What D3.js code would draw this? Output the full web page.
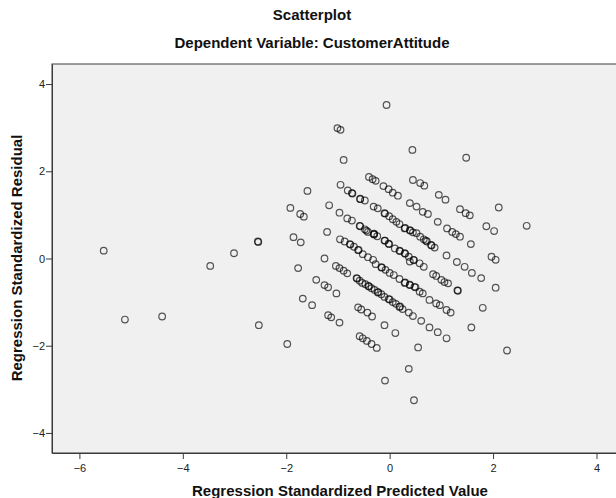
<!DOCTYPE html>
<html>
<head>
<meta charset="utf-8">
<script src="https://cdn.jsdelivr.net/npm/d3@7"></script>
<style>
  body { margin: 0; background: #fff; }
  text { font-family: "Liberation Sans", Arial, sans-serif; }
</style>
</head>
<body>
<div class="container"></div>
<script>
// residual vs predicted, one array per diagonal band
// each point is [standardized predicted, standardized residual]
var leftOutliers = [[-5.53,0.18],[-5.12,-1.40],[-4.40,-1.33],[-3.47,-0.17],[-3.01,0.12],
  [-2.55,0.39],[-2.54,0.38],[-2.53,-1.53],[-1.98,-1.96]];

var band0 = [[-0.06,3.52],[1.48,2.31]];
var band1 = [[0.44,2.49],[2.11,1.17],[2.65,0.75]];
var band2 = [[-1.01,2.99],[-0.95,2.95],[0.45,1.80],[0.59,1.73],[0.67,1.67],[0.95,1.46],
  [1.08,1.35],[1.36,1.13],[1.47,1.04],[1.55,0.99],[1.87,0.74],[2.02,0.63]];
var band3 = [[-0.89,2.26],[-0.40,1.87],[-0.33,1.82],[-0.27,1.78],[-0.12,1.66],[-0.02,1.59],
  [0.06,1.51],[0.16,1.44],[0.39,1.27],[0.52,1.19],[0.64,1.07],[0.74,1.02],[0.93,0.84],
  [1.11,0.69],[1.21,0.61],[1.28,0.56],[1.36,0.50],[1.57,0.33],[1.97,0.04],[2.05,-0.03]];
var band4 = [[-0.95,1.69],[-0.81,1.56],[-0.73,1.50],[-0.72,1.49],[-0.57,1.37],[-0.57,1.36],
  [-0.48,1.33],[-0.31,1.19],[-0.23,1.15],[-0.10,1.04],[-0.09,1.03],[-0.01,0.97],[0.06,0.90],
  [0.13,0.84],[0.19,0.79],[0.29,0.69],[0.30,0.70],[0.39,0.65],[0.40,0.64],[0.45,0.60],
  [0.52,0.58],[0.59,0.50],[0.66,0.44],[0.70,0.41],[0.72,0.39],[0.80,0.31],[0.81,0.30],
  [0.87,0.25],[1.10,0.07],[1.30,-0.08],[1.45,-0.19],[1.59,-0.33],[1.77,-0.45],[2.05,-0.67]];
var band5 = [[-1.59,1.55],[-1.17,1.22],[-0.97,1.05],[-0.82,0.92],[-0.73,0.87],[-0.58,0.75],
  [-0.57,0.74],[-0.48,0.67],[-0.45,0.64],[-0.42,0.61],[-0.31,0.56],[-0.30,0.55],[-0.30,0.57],
  [-0.24,0.51],[-0.10,0.41],[-0.09,0.41],[-0.02,0.34],[-0.01,0.33],[0.10,0.23],[0.19,0.18],
  [0.20,0.17],[0.29,0.12],[0.30,0.11],[0.37,0.04],[0.39,-0.07],[0.46,-0.03],[0.47,-0.04],
  [0.58,-0.11],[0.66,-0.19],[0.84,-0.36],[0.90,-0.40],[1.00,-0.49],[1.06,-0.54],[1.13,-0.57],
  [1.31,-0.73],[1.32,-0.74],[1.80,-1.13]];
var band6 = [[-1.92,1.16],[-1.73,1.02],[-1.66,0.96],[-1.21,0.61],[-0.96,0.44],[-0.87,0.39],
  [-0.77,0.33],[-0.76,0.32],[-0.69,0.27],[-0.61,0.19],[-0.60,0.20],[-0.52,0.10],[-0.42,0.03],
  [-0.32,-0.03],[-0.27,-0.13],[-0.16,-0.20],[-0.15,-0.21],[-0.08,-0.26],[0.00,-0.33],
  [0.08,-0.38],[0.19,-0.47],[0.29,-0.56],[0.30,-0.55],[0.39,-0.61],[0.39,-0.60],[0.48,-0.65],
  [0.50,-0.66],[0.58,-0.76],[0.64,-0.80],[0.77,-0.95],[0.90,-1.03],[0.97,-1.07],[1.10,-1.18],
  [1.18,-1.24],[1.58,-1.58],[2.27,-2.11]];
var band7 = [[-1.86,0.49],[-1.72,0.37],[-1.26,0.00],[-1.04,-0.17],[-0.97,-0.22],[-0.89,-0.28],
  [-0.82,-0.34],[-0.64,-0.45],[-0.63,-0.46],[-0.58,-0.51],[-0.53,-0.56],[-0.47,-0.59],
  [-0.41,-0.63],[-0.40,-0.64],[-0.35,-0.68],[-0.29,-0.72],[-0.23,-0.78],[-0.22,-0.77],
  [-0.16,-0.82],[-0.10,-0.88],[-0.02,-0.93],[0.00,-0.94],[0.06,-1.00],[0.12,-1.04],
  [0.19,-1.11],[0.20,-1.10],[0.25,-1.16],[0.37,-1.24],[0.45,-1.32],[0.61,-1.43],[0.77,-1.58],
  [0.93,-1.69],[1.10,-1.83]];
var band8 = [[-1.77,-0.22],[-1.42,-0.49],[-1.26,-0.61],[-1.19,-0.66],[-1.03,-0.80],
  [-0.61,-1.12],[-0.55,-1.17],[-0.43,-1.24],[-0.34,-1.33],[-0.10,-1.53],[0.11,-1.71],[0.55,-2.04]];
var band9 = [[-1.68,-0.92],[-1.50,-1.07],[-1.19,-1.30],[-1.13,-1.35],[-0.97,-1.47],
  [-0.58,-1.78],[-0.52,-1.83],[-0.44,-1.89],[-0.35,-1.96],[-0.25,-2.05],[0.37,-2.53]];
var band10 = [[-0.09,-2.80],[0.47,-3.25]];

var xTicks = [-6, -4, -2, 0, 2, 4];
var yTicks = [-4, -2, 0, 2, 4];

var chartTitle = "Scatterplot";
var chartSubtitle = "Dependent Variable: CustomerAttitude";
var xTitle = "Regression Standardized Predicted Value";
var yTitle = "Regression Standardized Residual";

var W = 616, H = 498;

function makeStage(w, h) {
  var stage = d3.select(".container")
    .append("svg")
    .attr("width", w)
    .attr("height", h);
  return stage;
}

var stage = makeStage(W, H);

// the plot box runs off the right edge like in the cropped original
var x = d3.scaleLinear().domain([-6.53, 4.59]).range([52, 627]);
var y = d3.scaleLinear().domain([-4.46, 4.46]).range([453, 64]);

stage.append("rect")
  .attr("x", x.range()[0])
  .attr("y", y.range()[1])
  .attr("width", x.range()[1] - x.range()[0])
  .attr("height", y.range()[0] - y.range()[1])
  .style("fill", "#f0f0f0")
  .style("stroke", "#3a3a3a")
  .style("stroke-width", 1);

// axes
var xAxis = d3.axisBottom(x).tickValues(xTicks).tickSize(6).tickSizeOuter(0).tickFormat(d3.format("d"));
var yAxis = d3.axisLeft(y).tickValues(yTicks).tickSize(6).tickSizeOuter(0).tickFormat(d3.format("d"));

var gx = stage.append("g").attr("transform", "translate(0," + y.range()[0] + ")").call(xAxis);
var gy = stage.append("g").attr("transform", "translate(" + x.range()[0] + ",0)").call(yAxis);

[gx, gy].forEach(function(g) {
  g.select(".domain").style("stroke", "#3a3a3a");
  g.selectAll(".tick line").style("stroke", "#3a3a3a");
  g.selectAll(".tick text")
    .style("font-family", "'Liberation Sans', Arial, sans-serif")
    .style("font-size", "11px")
    .style("fill", "#222");
});
gx.selectAll(".tick text").attr("dy", "0.9em");
gy.selectAll(".tick text").attr("x", -7);

// points, overlapping ones come out darker like the original
var allPoints = leftOutliers.concat(band0, band1, band2, band3, band4, band5,
  band6, band7, band8, band9, band10);

stage.append("g")
  .selectAll("circle")
  .data(allPoints)
  .enter()
  .append("circle")
  .attr("cx", function(d) { return x(d[0]); })
  .attr("cy", function(d) { return y(d[1]); })
  .attr("r", 3.3)
  .style("fill", "none")
  .style("stroke", "#000")
  .style("stroke-opacity", 0.66)
  .style("stroke-width", 1.2);

// titles
function addText(tx, ty, str, rot) {
  var t = stage.append("text")
    .attr("x", tx)
    .attr("y", ty)
    .attr("text-anchor", "middle")
    .style("font-size", "15px")
    .style("font-weight", "bold")
    .style("fill", "#111")
    .text(str);
  if (rot) t.attr("transform", "rotate(-90," + tx + "," + ty + ")");
  return t;
}

addText(312, 20, chartTitle);
addText(312, 48, chartSubtitle);
addText(340, 496, xTitle);
addText(22, 258, yTitle, true);
</script>
</body>
</html>
